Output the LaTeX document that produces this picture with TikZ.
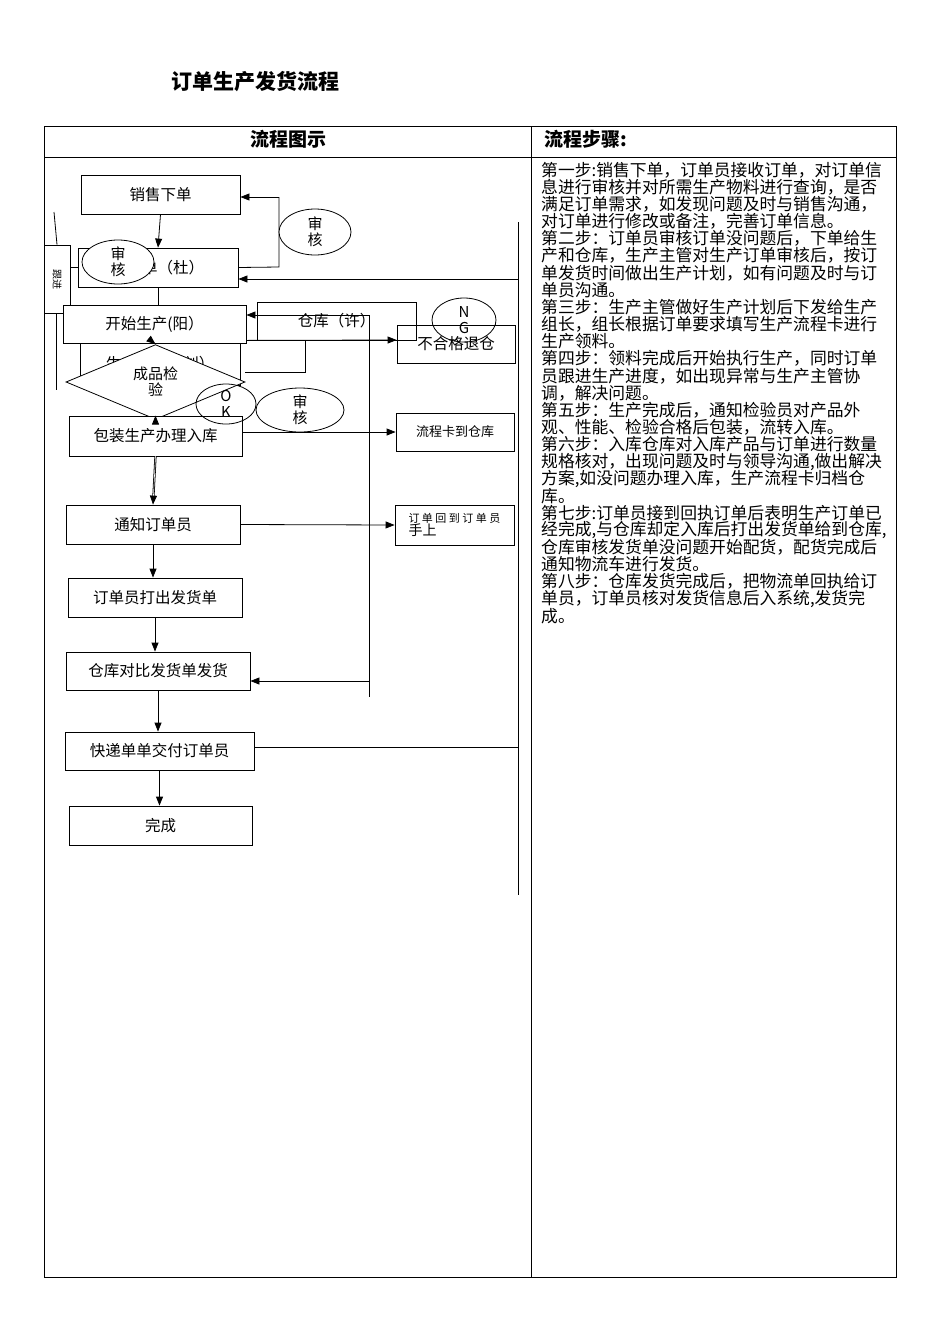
\documentclass[tikz,border=0pt]{standalone}
\usepackage{fontspec}
\setmainfont{Noto Sans CJK SC}
\usetikzlibrary{shapes.geometric,arrows.meta}
\begin{document}
\begin{tikzpicture}[x=1pt,y=-1pt,
  bx/.style={draw,thick,fill=white,inner sep=0pt,font=\fontsize{15.5}{15.5}\selectfont},
  el/.style={draw,thick,ellipse,fill=white,inner sep=0pt,align=center,font=\fontsize{15}{16}\selectfont},
  ln/.style={thick},
  ar/.style={thick,-{Triangle[length=9pt,width=7pt]}},
  st/.style={anchor=west,inner sep=0pt,font=\fontsize{16.8}{16.8}\selectfont}]
\useasboundingbox (0,0) rectangle (950,1344);
\node[font=\bfseries\fontsize{21}{21}\selectfont] (title) at (255,82) {订单生产发货流程};
\draw[thin] (44,126) rectangle (896,1277);
\draw[thin] (44,157) -- (896,157);
\draw[thin] (531,126) -- (531,1277);
\node[font=\bfseries\fontsize{19}{19}\selectfont] (h1) at (288,139) {流程图示};
\node[font=\bfseries\fontsize{19}{19}\selectfont,anchor=west] (h2) at (541,139) {流程步骤:};
% boxes
\node[bx,minimum width=159,minimum height=39] (xs) at (160.5,194.5) {销售下单};
\node[bx,minimum width=160,minimum height=39] (jd) at (158,267.5) {\hspace*{30pt}单（杜）};
\node[bx,minimum width=26,minimum height=68] (gj) at (57,279) {\rotatebox{-90}{\fontsize{10}{10}\selectfont 跟进}};
\node[bx,minimum width=160,minimum height=42] (jh) at (160,364) {生产计划（刘）};
\node[bx,minimum width=183,minimum height=38] (ks) at (154.5,324) {开始生产(阳）};
\node[bx,minimum width=118,minimum height=38] (bh) at (456,344) {不合格退仓};
\node[bx,minimum width=159,minimum height=38,fill=none] (ck) at (336.5,321) {仓库（许）};
\node[draw,thick,diamond,fill=white,minimum width=179,minimum height=58,inner sep=0pt,align=center,font=\fontsize{15}{16}\selectfont] (jy) at (155.5,382) {成品检\\验};
\node[bx,minimum width=173,minimum height=40] (bz) at (155.5,436) {包装生产办理入库};
\node[bx,minimum width=118,minimum height=38,font=\fontsize{13}{13}\selectfont] (lc) at (455,432) {流程卡到仓库};
\node[bx,minimum width=174,minimum height=39] (tz) at (153,524.5) {通知订单员};
\node[bx,minimum width=119,minimum height=40,align=left,font=\fontsize{11}{13}\selectfont] (hd) at (454.5,525) {订 单 回 到 订 单 员\\{\fontsize{14}{14}\selectfont 手上}\hspace*{64pt}};
\node[bx,minimum width=174,minimum height=39] (dy) at (155,597.5) {订单员打出发货单};
\node[bx,minimum width=184,minimum height=38] (db) at (158,671) {仓库对比发货单发货};
\node[bx,minimum width=189,minimum height=38] (kd) at (159.5,751) {快递单单交付订单员};
\node[bx,minimum width=183,minimum height=39] (wc) at (160.5,825.5) {完成};
% coordinates
\coordinate (r1) at (279,267); \coordinate (r2) at (279,197);
\coordinate (v1) at (518,222); \coordinate (v2) at (518,895);
\coordinate (v3) at (518,279); \coordinate (v4) at (518,747);
\coordinate (w1) at (369,315); \coordinate (w2) at (369,697); \coordinate (w3) at (369,681);
\coordinate (g1) at (54,212); \coordinate (g2) at (56,313); \coordinate (g3) at (56,390);
\coordinate (p1) at (305,340); \coordinate (p2) at (305,372); \coordinate (p3) at (245,372);
% connectors
\draw[ar] (xs.south) -- (jd.north);
\draw[ln] (jd.east) -- (r1) -- (r2);
\draw[ar] (r2) -- (xs.east |- r2);
\draw[ln] (v1) -- (v2);
\draw[ar] (v3) -- (jd.east |- v3);
\draw[ln] (g1) -- (gj.north);
\draw[ln] (g2) -- (g3);
\draw[ln] (gj.east |- jd.west) -- (jd.west);
\draw[ln] (jd.south) -- (ks.north -| jd.south);
\draw[ln] (w1) -- (w2);
\draw[ar] (w1) -- (ks.east |- w1);
\draw[ar] (ks.south east) ++(0,-3) -- (bh.west |- 0,340);
\draw[ln] (p1) -- (p2) -- (p3);
\draw[ar] (ks.south) -- (jy.north);
\draw[ar,double] (jy.south) -- (bz.north);
\draw[ar] (bz.east |- lc.west) -- (lc.west);
\draw[ar,double] (bz.south) -- (tz.north);
\draw[ar] (tz.east) -- (hd.west);
\draw[ar] (tz.south) -- (dy.north -| tz.south);
\draw[ar] (dy.south) -- (db.north -| dy.south);
\draw[ar] (w3) -- (db.east |- w3);
\draw[ar] (db.south) -- (kd.north -| db.south);
\draw[ln] (kd.east |- v4) -- (v4);
\draw[ar] (kd.south) -- (wc.north -| kd.south);
% ellipses
\node[el,minimum width=72,minimum height=44] (e1) at (118,262) {审\\核};
\node[el,minimum width=72,minimum height=46] (e2) at (315,232) {审\\核};
\node[el,minimum width=64,minimum height=44,fill=none] (ng) at (464,320) {N\\G};
\node[el,minimum width=60,minimum height=40,fill=none] (ok) at (226,404) {O\\K};
\node[el,minimum width=88,minimum height=44,fill=none] (e3) at (300,410) {审\\核};
% steps
\foreach \t [count=\i from 0] in {
第一步:销售下单，订单员接收订单，对订单信,
息进行审核并对所需生产物料进行查询，是否,
满足订单需求，如发现问题及时与销售沟通，,
对订单进行修改或备注，完善订单信息。,
第二步：订单员审核订单没问题后，下单给生,
产和仓库，生产主管对生产订单审核后，按订,
单发货时间做出生产计划，如有问题及时与订,
单员沟通。,
第三步：生产主管做好生产计划后下发给生产,
组长，组长根据订单要求填写生产流程卡进行,
生产领料。,
第四步：领料完成后开始执行生产，同时订单,
员跟进生产进度，如出现异常与生产主管协,
调，解决问题。,
第五步：生产完成后，通知检验员对产品外,
观、性能、检验合格后包装，流转入库。,
第六步：入库仓库对入库产品与订单进行数量,
{规格核对，出现问题及时与领导沟通,做出解决},
{方案,如没问题办理入库，生产流程卡归档仓},
库。,
第七步:订单员接到回执订单后表明生产订单已,
{经完成,与仓库却定入库后打出发货单给到仓库,},
仓库审核发货单没问题开始配货，配货完成后,
通知物流车进行发货。,
第八步：仓库发货完成后，把物流单回执给订,
{单员，订单员核对发货信息后入系统,发货完},
成。}
{\node[st] (s\i) at (541,{170+17.15*\i}) {\t};}
\end{tikzpicture}
\end{document}
